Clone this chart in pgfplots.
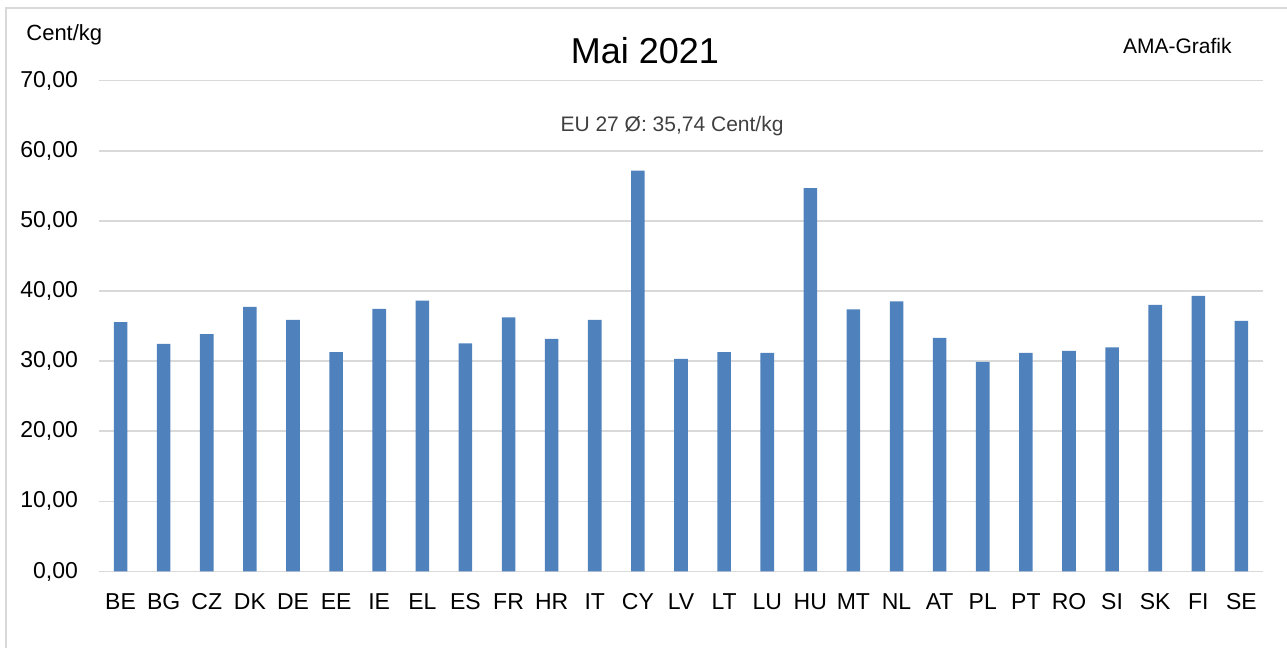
\documentclass[border=0pt]{standalone}
\usepackage{pgfplots}
\pgfplotsset{compat=1.18}
\usepackage{fontspec}
\setmainfont{Liberation Sans}
\definecolor{barblue}{HTML}{4F81BD}
\definecolor{gridgray}{HTML}{D9D9D9}
\definecolor{txtgray}{HTML}{404040}
\begin{document}
\begin{tikzpicture}
\useasboundingbox (0,0) rectangle (643.5pt,324pt);
\draw[gridgray, line width=0.8pt] (3pt,-20pt) rectangle (680pt,320pt);
\begin{axis}[
    at={(49.5pt,38.25pt)}, anchor=south west,
    scale only axis,
    width=582pt, height=245.4pt,
    ybar, bar width=6.8pt,
    xmin=-0.5, xmax=26.5,
    ymin=0, ymax=70,
    ytick={0,10,...,70},
    xtick=data,
    xticklabels={BE,BG,CZ,DK,DE,EE,IE,EL,ES,FR,HR,IT,CY,LV,LT,LU,HU,MT,NL,AT,PL,PT,RO,SI,SK,FI,SE},
    axis line style={draw=none},
    major tick style={draw=none},
    ymajorgrids, grid style={gridgray, line width=0.8pt},
    /pgf/number format/.cd, fixed, fixed zerofill, precision=2, use comma, assume math mode=true,
    /pgfplots/.cd,
    yticklabel style={font=\fontsize{11.5}{13}\selectfont, xshift=-7pt},
    xticklabel style={font=\fontsize{11.5}{13}\selectfont, text height=8.5pt, text depth=0pt, yshift=-2.5pt},
]
\addplot[fill=barblue, draw=none] coordinates {
    (0,35.55) (1,32.45) (2,33.84) (3,37.73) (4,35.88) (5,31.27) (6,37.45)
    (7,38.63) (8,32.55) (9,36.26) (10,33.17) (11,35.88) (12,57.18) (13,30.31)
    (14,31.27) (15,31.17) (16,54.66) (17,37.40) (18,38.54) (19,33.31) (20,29.89)
    (21,31.17) (22,31.46) (23,31.98) (24,38.02) (25,39.30) (26,35.74)
};
\end{axis}
\node[font=\fontsize{18}{21}\selectfont] at (322.5pt,298.5pt) {Mai 2021};
\node[anchor=west, font=\fontsize{11}{13}\selectfont, inner sep=0pt] at (13pt,306.5pt) {Cent/kg};
\node[anchor=east, font=\fontsize{10.5}{12}\selectfont, inner sep=0pt] at (616pt,301pt) {AMA-Grafik};
\node[text=txtgray, font=\fontsize{10.5}{12}\selectfont] at (336pt,261pt) {EU 27 Ø: 35,74 Cent/kg};
\end{tikzpicture}
\end{document}
